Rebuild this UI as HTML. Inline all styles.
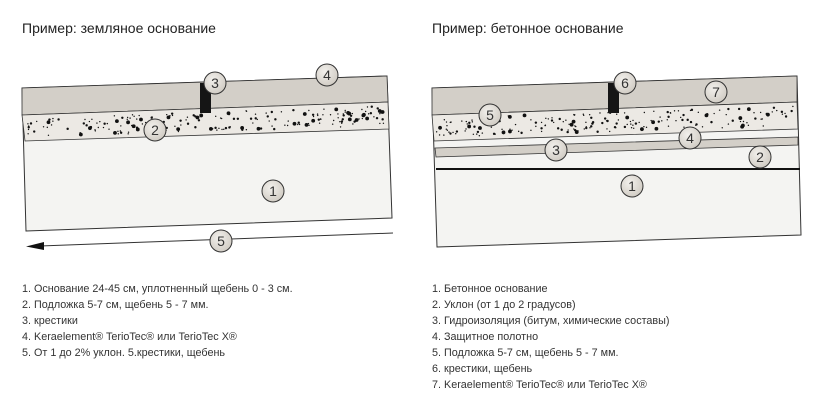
<!DOCTYPE html>
<html><head><meta charset="utf-8"><style>
body{margin:0;background:#fff;width:813px;height:408px;overflow:hidden;font-family:"Liberation Sans",sans-serif}
</style></head><body>
<svg id="s" width="813" height="408" xmlns="http://www.w3.org/2000/svg" style="position:absolute;left:0;top:0">
<defs>
<radialGradient id="g" cx="40%" cy="35%" r="70%"><stop offset="0" stop-color="#f2f0ec"/><stop offset="1" stop-color="#cfcac2"/></radialGradient>
</defs>
<g font-family="Liberation Sans, sans-serif" fill="#222">
<text x="22" y="33" font-size="14">Пример: земляное основание</text>
<text x="432" y="33" font-size="14">Пример: бетонное основание</text>
</g>
<!-- LEFT -->
<polygon points="26,231 392,218 387,76 22,88" fill="#f4f4f2" stroke="#333" stroke-width="1"/>
<polygon points="22,88 387,76 388,102 22,115" fill="#d3cfc8" stroke="#333" stroke-width="0.8"/>
<polygon points="22,115 388,102 389,129 25,141" fill="#ece9e4" stroke="#333" stroke-width="0.8"/>
<g id="dotsL"></g>
<rect x="200" y="83" width="11" height="30" fill="#151515"/>
<line x1="393" y1="233" x2="40" y2="246" stroke="#333" stroke-width="1"/>
<polygon points="26,246.5 44,242 44,250" fill="#111"/>
<!-- RIGHT -->
<polygon points="437,247 801,235 797,76 432,88" fill="#f4f4f2" stroke="#333" stroke-width="1"/>
<polygon points="432,88 797,76 797,102 432,115" fill="#d3cfc8" stroke="#333" stroke-width="0.8"/>
<polygon points="432,115 797,102 798,129 434,141" fill="#ece9e4" stroke="#333" stroke-width="0.8"/>
<g id="dotsR"></g>
<polygon points="435,148 798,137 798,145 436,157" fill="#d3cfc8" stroke="#333" stroke-width="0.8"/>
<line x1="436" y1="169" x2="800" y2="169" stroke="#111" stroke-width="2"/>
<rect x="608" y="83" width="11" height="30" fill="#151515"/>
<g id="circ" font-family="Liberation Sans, sans-serif" font-size="14" fill="#333" text-anchor="middle"></g>
<g font-family="Liberation Sans, sans-serif" font-size="10.8" fill="#333">
<text x="22" y="292">1. Основание 24-45 см, уплотненный щебень 0 - 3 см.</text>
<text x="22" y="308">2. Подложка 5-7 см, щебень 5 - 7 мм.</text>
<text x="22" y="324">3. крестики</text>
<text x="22" y="340">4. Keraelement® TerioTec® или TerioTec X®</text>
<text x="22" y="356">5. От 1 до 2% уклон. 5.крестики, щебень</text>
<text x="432" y="292">1. Бетонное основание</text>
<text x="432" y="308">2. Уклон (от 1 до 2 градусов)</text>
<text x="432" y="324">3. Гидроизоляция (битум, химические составы)</text>
<text x="432" y="340">4. Защитное полотно</text>
<text x="432" y="356">5. Подложка 5-7 см, щебень 5 - 7 мм.</text>
<text x="432" y="372">6. крестики, щебень</text>
<text x="432" y="388">7. Keraelement® TerioTec® или TerioTec X®</text>
</g>
</svg>
<script>
var NS="http://www.w3.org/2000/svg",a=123456789;
function r(){a|=0;a=a+0x6D2B79F5|0;var t=Math.imul(a^a>>>15,1|a);t=t+Math.imul(t^t>>>7,61|t)^t;return((t^t>>>14)>>>0)/4294967296;}
function dots(id,x0,x1){var g=document.getElementById(id);
for(var i=0;i<200;i++){var t=r(),x=x0+4+t*(x1-x0-8);var top=115-13*t+3.5,bot=141-12*t-3.5;var y=top+r()*(bot-top);
var c=document.createElementNS(NS,"circle");c.setAttribute("cx",x);c.setAttribute("cy",y);var s=r();c.setAttribute("r",s<0.15?1.9:(s<0.45?1.2:0.7));c.setAttribute("fill","#111");g.appendChild(c);}}
dots("dotsL",22,388);dots("dotsR",432,797);
var C=[[215,83,3],[327,75,4],[155,130,2],[273,191,1],[221,241,5],[625,83,6],[716,92,7],[490,115,5],[690,138,4],[556,150,3],[760,157,2],[632,186,1]];
var g=document.getElementById("circ");
C.forEach(function(a){var c=document.createElementNS(NS,"circle");c.setAttribute("cx",a[0]);c.setAttribute("cy",a[1]);c.setAttribute("r",11);c.setAttribute("fill","url(#g)");c.setAttribute("stroke","#333");c.setAttribute("stroke-width","1");g.appendChild(c);
var t=document.createElementNS(NS,"text");t.setAttribute("x",a[0]);t.setAttribute("y",a[1]+5);t.textContent=a[2];g.appendChild(t);});
</script>
</body></html>
